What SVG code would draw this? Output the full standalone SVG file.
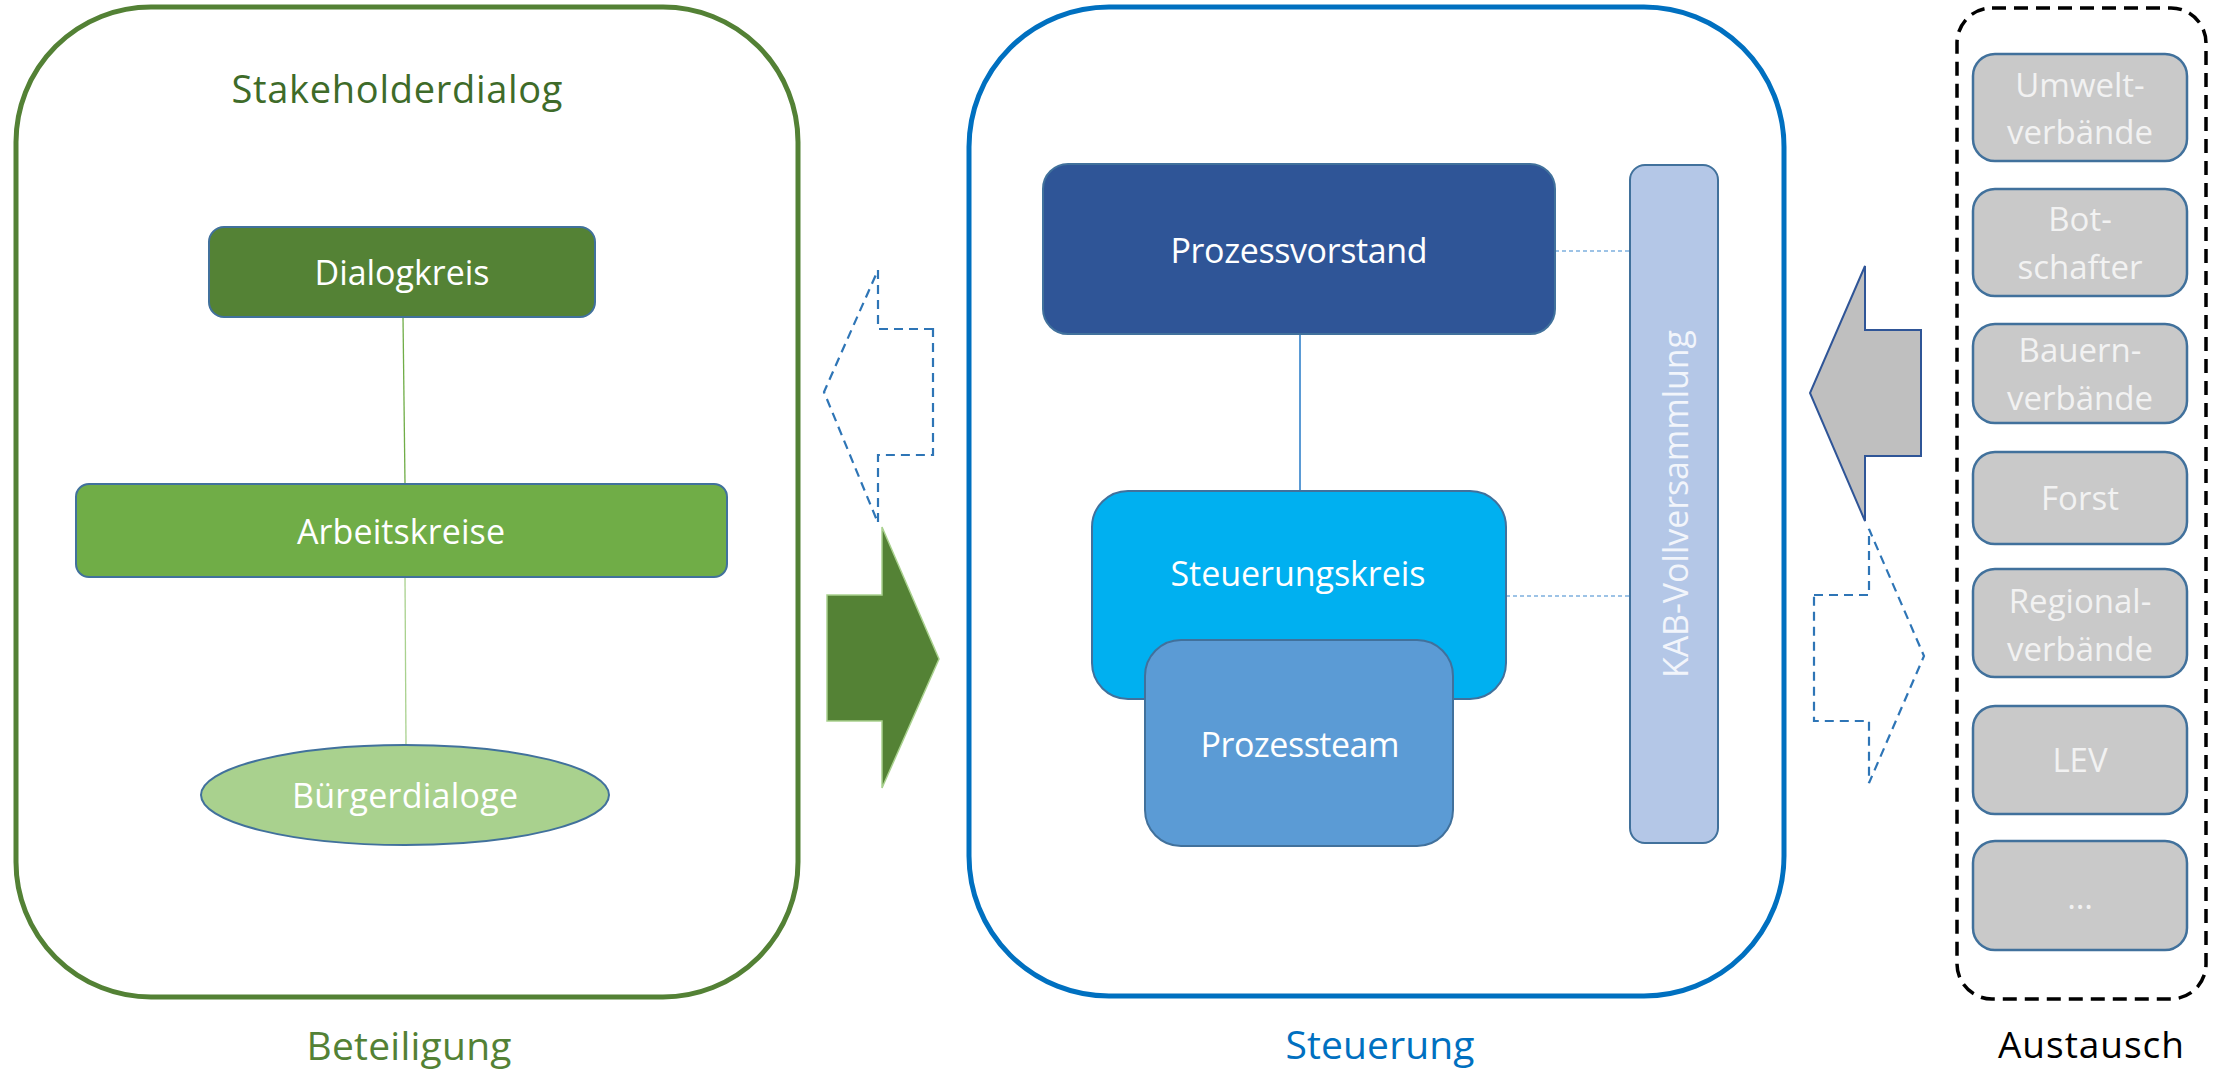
<svg xmlns="http://www.w3.org/2000/svg" width="2219" height="1069" viewBox="0 0 2219 1069">
  <style>
    text { font-family: "Open Sans", "Liberation Sans", sans-serif; text-anchor: middle; }
    .lbl { fill: #FFFFFF; font-size: 34px; }
    .grey-lbl { fill: #F2F2F2; font-size: 33px; }
    .node { stroke: #41719C; stroke-width: 2; }
    .grey { fill: #C9C9C9; stroke: #41719C; stroke-width: 2.5; }
    .dash-arrow { fill: none; stroke: #2E75B6; stroke-width: 2.2; stroke-dasharray: 9 6; }
    .dot-link { stroke: #9DC3E6; stroke-width: 2; stroke-dasharray: 4 3; fill: none; }
  </style>

  <rect width="2219" height="1069" fill="#FFFFFF"/>

  <!-- Beteiligung column -->
  <g id="frame-beteiligung">
    <rect x="16" y="7" width="782" height="990" rx="135" ry="135" fill="#FFFFFF" stroke="#538135" stroke-width="5"/>
    <text x="397" y="103" font-size="38" fill="#3E6B29" textLength="331">Stakeholderdialog</text>
    <text x="409" y="1060" font-size="39" fill="#538135" textLength="205">Beteiligung</text>
  </g>

  <!-- Steuerung column -->
  <g id="frame-steuerung">
    <rect x="969" y="7" width="815" height="989" rx="140" ry="140" fill="#FFFFFF" stroke="#0070C0" stroke-width="5"/>
    <text x="1380" y="1059" font-size="39" fill="#0070C0" textLength="189">Steuerung</text>
  </g>

  <!-- Austausch column -->
  <g id="frame-austausch">
    <rect x="1957" y="8" width="249" height="991" rx="35" ry="35" fill="none" stroke="#000000" stroke-width="3.5" stroke-dasharray="14 8"/>
    <text x="2091" y="1058" font-size="37" fill="#000000" textLength="186">Austausch</text>
  </g>

  <!-- connectors -->
  <g id="connectors">
    <line x1="403" y1="317" x2="405" y2="484" stroke="#70AD47" stroke-width="1.3"/>
    <line x1="405" y1="577" x2="406" y2="745" stroke="#A9D18E" stroke-width="1.3"/>
    <line x1="1300" y1="334" x2="1300" y2="491" stroke="#5B9BD5" stroke-width="2"/>
    <line x1="1555" y1="251" x2="1630" y2="251" class="dot-link"/>
    <line x1="1506" y1="596" x2="1630" y2="596" class="dot-link"/>

    <!-- flow arrows between the columns -->
    <path id="arrow-beteiligung-steuerung" d="M827,595 L882,595 L882,527 L939,659 L882,788 L882,721 L827,721 Z" fill="#548235" stroke="#A9D18E" stroke-width="1.5"/>
    <path id="arrow-steuerung-beteiligung" class="dash-arrow" d="M933,329 L878,329 L878,270 L824,392 L878,523 L878,455 L933,455 Z"/>
    <path id="arrow-austausch-steuerung" d="M1921,330 L1865,330 L1865,266 L1810,393 L1865,521 L1865,456 L1921,456 Z" fill="#BFBFBF" stroke="#2F5597" stroke-width="2"/>
    <path id="arrow-steuerung-austausch" class="dash-arrow" d="M1814,595 L1869,595 L1869,529 L1924,656 L1869,783 L1869,721 L1814,721 Z"/>
  </g>

  <!-- Stakeholder dialogue nodes -->
  <g id="dialogkreis">
    <rect x="209" y="227" width="386" height="90" rx="15" fill="#548235" class="node"/>
    <text x="402" y="285" class="lbl" textLength="175">Dialogkreis</text>
  </g>
  <g id="arbeitskreise">
    <rect x="76" y="484" width="651" height="93" rx="13" fill="#70AD47" class="node"/>
    <text x="401" y="544" class="lbl" textLength="208">Arbeitskreise</text>
  </g>
  <g id="buergerdialoge">
    <ellipse cx="405" cy="795" rx="204" ry="50" fill="#A9D18E" class="node"/>
    <text x="405" y="808" class="lbl" textLength="226">Bürgerdialoge</text>
  </g>

  <!-- Steering nodes -->
  <g id="prozessvorstand">
    <rect x="1043" y="164" width="512" height="170" rx="25" fill="#2F5597" class="node"/>
    <text x="1299" y="263" class="lbl" textLength="257">Prozessvorstand</text>
  </g>
  <g id="steuerungskreis">
    <rect x="1092" y="491" width="414" height="208" rx="36" fill="#00B0F0" class="node"/>
    <text x="1298" y="586" class="lbl" textLength="255">Steuerungskreis</text>
  </g>
  <g id="prozessteam">
    <rect x="1145" y="640" width="308" height="206" rx="36" fill="#5B9BD5" class="node"/>
    <text x="1300" y="757" class="lbl" textLength="199">Prozessteam</text>
  </g>
  <g id="kab-vollversammlung">
    <rect x="1630" y="165" width="88" height="678" rx="15" fill="#B4C7E7" class="node"/>
    <text transform="translate(1688,504) rotate(-90)" x="0" y="0" font-size="34" fill="#F2F5FB" textLength="348">KAB-Vollversammlung</text>
  </g>

  <!-- Exchange partners -->
  <g id="umweltverbaende">
    <rect x="1973" y="54" width="214" height="107" rx="22" class="grey"/>
    <text x="2080" y="97" class="grey-lbl">Umwelt-</text>
    <text x="2080" y="144" class="grey-lbl">verbände</text>
  </g>
  <g id="botschafter">
    <rect x="1973" y="189" width="214" height="107" rx="22" class="grey"/>
    <text x="2080" y="231" class="grey-lbl">Bot-</text>
    <text x="2080" y="279" class="grey-lbl">schafter</text>
  </g>
  <g id="bauernverbaende">
    <rect x="1973" y="324" width="214" height="99" rx="22" class="grey"/>
    <text x="2080" y="362" class="grey-lbl">Bauern-</text>
    <text x="2080" y="410" class="grey-lbl">verbände</text>
  </g>
  <g id="forst">
    <rect x="1973" y="452" width="214" height="92" rx="22" class="grey"/>
    <text x="2080" y="510" class="grey-lbl">Forst</text>
  </g>
  <g id="regionalverbaende">
    <rect x="1973" y="569" width="214" height="108" rx="22" class="grey"/>
    <text x="2080" y="613" class="grey-lbl">Regional-</text>
    <text x="2080" y="661" class="grey-lbl">verbände</text>
  </g>
  <g id="lev">
    <rect x="1973" y="706" width="214" height="108" rx="22" class="grey"/>
    <text x="2080" y="772" class="grey-lbl">LEV</text>
  </g>
  <g id="weitere">
    <rect x="1973" y="841" width="214" height="109" rx="22" class="grey"/>
    <text x="2080" y="909" class="grey-lbl">…</text>
  </g>
</svg>
